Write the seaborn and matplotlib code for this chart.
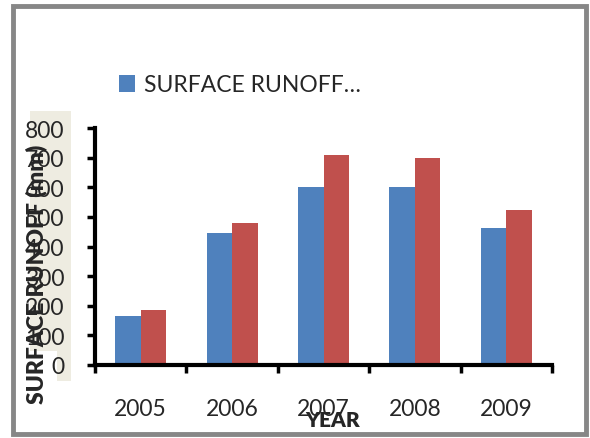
import matplotlib
matplotlib.use("Agg")
import matplotlib.pyplot as plt
import seaborn as sns
import pandas as pd
from matplotlib.patches import Rectangle, Patch

years = ["2005", "2006", "2007", "2008", "2009"]
series_names = ["SURFACE RUNOFF…", "SURFACE RUNOFF (2)"]
blue_vals = [167, 447, 602, 602, 464]
red_vals = [184, 478, 710, 698, 523]
y_ticks = [0, 100, 200, 300, 400, 500, 600, 700, 800]

df = pd.DataFrame({
    "YEAR": years * 2,
    "value": blue_vals + red_vals,
    "series": [series_names[0]] * 5 + [series_names[1]] * 5,
})

sns.set_style("white")
plt.rcParams["font.family"] = ["Lato", "DejaVu Sans"]

W, H = 590, 439
fig = plt.figure(figsize=(W / 100, H / 100), dpi=100)
ax = fig.add_axes([95 / W, 1 - 366 / H, (552 - 95) / W, (366 - 129) / H])

colors = ["#4F81BD", "#C0504D"]
sns.barplot(data=df, x="YEAR", y="value", hue="series", palette=colors,
            width=0.56, saturation=1, ax=ax, legend=False)
for p in ax.patches:
    p.set_edgecolor("none")

ax.set_ylim(0, 800)
ax.set_xlim(-0.5, 4.5)
ax.set_yticks(y_ticks)
ax.set_yticklabels([str(v) for v in y_ticks], fontsize=16.5)
ax.set_xticks([i - 0.5 for i in range(6)])
ax.set_xticklabels([])
ax.set_xticks(range(5), minor=True)
ax.set_xticklabels(years, minor=True, fontsize=16.5)
ax.tick_params(axis="x", which="major", direction="out", length=6, width=2.5, color="black", bottom=True)
ax.tick_params(axis="x", which="minor", length=0, pad=24)
ax.tick_params(axis="y", direction="out", length=6, width=2.5, color="black", left=True, pad=16)

for s in ["top", "right"]:
    ax.spines[s].set_visible(False)
for s in ["left", "bottom"]:
    ax.spines[s].set_linewidth(3)
    ax.spines[s].set_color("black")

ax.set_ylabel("SURFACE RUNOFF (mm)", fontsize=16.5, fontweight="heavy", va="center")
ax.yaxis.set_label_coords((36 - 95) / 457, (366 - 274) / 237)
ax.set_xlabel("YEAR", fontsize=15, fontweight="heavy", va="center")
ax.xaxis.set_label_coords((333 - 95) / 457, (366 - 421) / 237)

# legend (only first series visible, as in reference)
handle = Patch(facecolor=colors[0], edgecolor="none")
fig.legend([handle], [series_names[0]], loc="center left",
           bbox_to_anchor=(119 / W, 1 - 86 / H), frameon=False,
           borderaxespad=0, borderpad=0,
           fontsize=16.5, handlelength=0.7, handleheight=0.7, handletextpad=0.4)

# beige background behind y tick labels
beige = "#EEECE1"
fig.patches.append(Rectangle((30 / W, 1 - 352 / H), 41 / W, 240 / H,
                             transform=fig.transFigure, facecolor=beige,
                             edgecolor="none", zorder=-1))
fig.patches.append(Rectangle((57 / W, 1 - 382 / H), 14 / W, 30 / H,
                             transform=fig.transFigure, facecolor=beige,
                             edgecolor="none", zorder=-1))
# outer frame
fig.patches.append(Rectangle((13 / W, 1 - 435 / H), 573 / W, 428 / H,
                             transform=fig.transFigure, facecolor="none",
                             edgecolor="#878787", linewidth=3.5, zorder=5))

fig.savefig("out.png", dpi=100)
